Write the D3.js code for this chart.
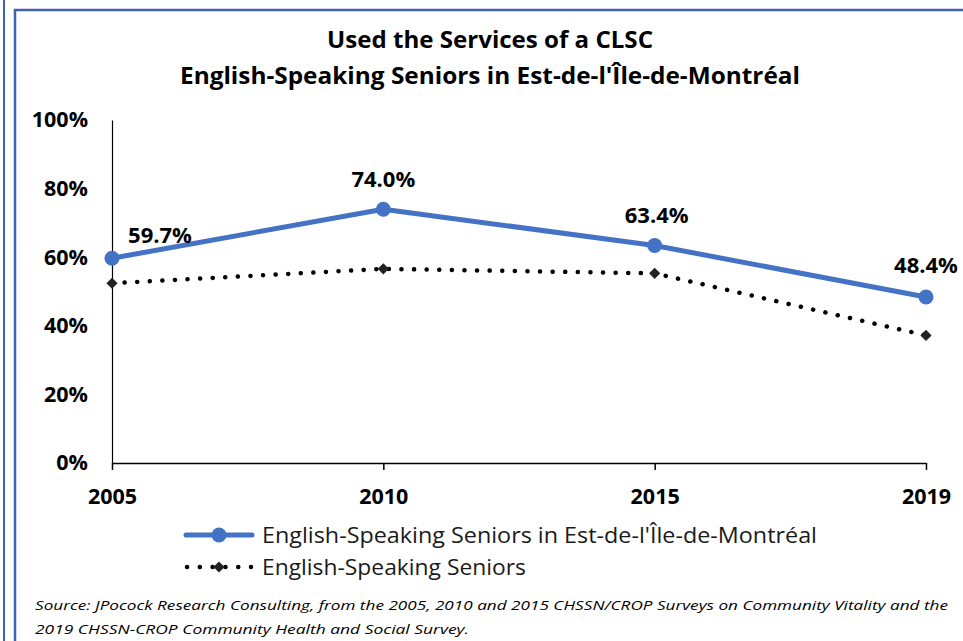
<!DOCTYPE html>
<html><head><meta charset="utf-8">
<script src="https://cdn.jsdelivr.net/npm/d3@7"></script>
<style>body{margin:0;background:#fff}svg{display:block}</style>
</head><body>
<svg id="c" width="963" height="641"></svg>
<script>
const years = ["2005","2010","2015","2019"];
const regionValues = [59.7, 74.0, 63.4, 48.4];
const seniorsValues = [52.4, 56.6, 55.3, 37.2];
const yTicks = [0,20,40,60,80,100];
const seriesNames = ["English-Speaking Seniors in Est-de-l'Île-de-Montréal","English-Speaking Seniors"];
const titleLines = ["Used the Services of a CLSC","English-Speaking Seniors in Est-de-l'Île-de-Montréal"];
const sourceLines = ["Source: JPocock Research Consulting, from the 2005, 2010  and 2015  CHSSN/CROP Surveys on Community Vitality and the",
"2019  CHSSN-CROP Community Health and Social Survey."];

const svg = d3.select("#c");
const font = "'Open Sans', 'Liberation Sans', sans-serif";
const blue = "#4472C4";

// frame
svg.append("line").attr("x1",4).attr("x2",4).attr("y1",0).attr("y2",641).attr("stroke","#3f63ad").attr("stroke-width",2);
svg.append("path").attr("d","M15,641V10H963").attr("fill","none").attr("stroke","#3f63ad").attr("stroke-width",2.5);

const x = d3.scalePoint().domain(years).range([112,926]);
const y = d3.scaleLinear().domain([0,100]).range([463,120]);

// titles
const titleW = [326,620];
svg.selectAll("text.title").data(titleLines).join("text")
  .attr("x",490).attr("y",(d,i)=>48+i*36).attr("text-anchor","middle")
  .attr("font-family",font).attr("font-weight","bold").attr("font-size",23).attr("fill","#000")
  .attr("textLength",(d,i)=>titleW[i]).attr("lengthAdjust","spacingAndGlyphs")
  .text(d=>d);

// y axis
const yAxis = svg.append("g").attr("transform","translate(112,0)")
  .call(d3.axisLeft(y).tickValues(yTicks).tickSize(0).tickPadding(24).tickFormat(d=>d+"%"));
yAxis.select(".domain").attr("stroke","#000").attr("stroke-width",1.2);
yAxis.selectAll("text").attr("font-family",font).attr("font-weight","bold").attr("font-size",21.5).attr("fill","#000");

// x axis
const xAxis = svg.append("g").attr("transform","translate(0,463)")
  .call(d3.axisBottom(x).tickSize(7).tickSizeOuter(0).tickPadding(19));
xAxis.select(".domain").attr("stroke","#000").attr("stroke-width",1.5);
xAxis.selectAll(".tick line").attr("stroke","#000").attr("stroke-width",1.5);
xAxis.selectAll("text").attr("font-family",font).attr("font-weight","bold").attr("font-size",21.5).attr("fill","#000");

const line = d3.line().x((d,i)=>x(years[i])).y(d=>y(d));

// black dotted series
svg.append("path").datum(seniorsValues).attr("d",line).attr("fill","none")
  .attr("stroke","#000").attr("stroke-width",4.5).attr("stroke-linecap","round").attr("stroke-dasharray","0.1 12.5");
svg.selectAll("path.dia").data(seniorsValues).join("path")
  .attr("transform",(d,i)=>`translate(${x(years[i])},${y(d)})`)
  .attr("d",d3.symbol(d3.symbolDiamond2,80)).attr("fill","#222");

// blue series
svg.append("path").datum(regionValues).attr("d",line).attr("fill","none")
  .attr("stroke",blue).attr("stroke-width",5).attr("stroke-linejoin","round");
svg.selectAll("circle.pt").data(regionValues).join("circle")
  .attr("cx",(d,i)=>x(years[i])).attr("cy",d=>y(d)).attr("r",7.5).attr("fill",blue);

// data labels
const labelDx = [48,0,2,0];
const labelDy = [-15,-22,-23,-24];
svg.selectAll("text.lbl").data(regionValues).join("text")
  .attr("x",(d,i)=>x(years[i])+labelDx[i]).attr("y",(d,i)=>y(d)+labelDy[i])
  .attr("text-anchor","middle").attr("font-family",font).attr("font-weight","bold").attr("font-size",22).attr("fill","#000")
  .text(d=>d.toFixed(1)+"%");

// legend
const lg = svg.append("g");
lg.append("line").attr("x1",186).attr("x2",252).attr("y1",535).attr("y2",535).attr("stroke",blue).attr("stroke-width",5).attr("stroke-linecap","round");
lg.append("circle").attr("cx",219).attr("cy",535).attr("r",7.5).attr("fill",blue);
lg.append("line").attr("x1",187).attr("x2",251).attr("y1",567).attr("y2",567).attr("stroke","#000").attr("stroke-width",4.5).attr("stroke-linecap","round").attr("stroke-dasharray","0.1 12.7");
lg.append("path").attr("transform","translate(219,567)").attr("d",d3.symbol(d3.symbolDiamond2,80)).attr("fill","#222");
const legW = [555,264];
lg.selectAll("text").data(seriesNames).join("text")
  .attr("x",262).attr("y",(d,i)=>543+i*32).attr("font-family",font).attr("font-size",22).attr("fill","#1a1a1a")
  .attr("textLength",(d,i)=>legW[i]).attr("lengthAdjust","spacingAndGlyphs")
  .text(d=>d);

// source
svg.selectAll("text.src").data(sourceLines).join("text")
  .attr("x",35).attr("y",(d,i)=>610+i*24).attr("font-family",font).attr("font-style","italic").attr("font-size",13.5).attr("fill","#000")
  .attr("textLength",(d,i)=>i===0?913:434).attr("lengthAdjust","spacingAndGlyphs")
  .text(d=>d);
</script>
</body></html>
